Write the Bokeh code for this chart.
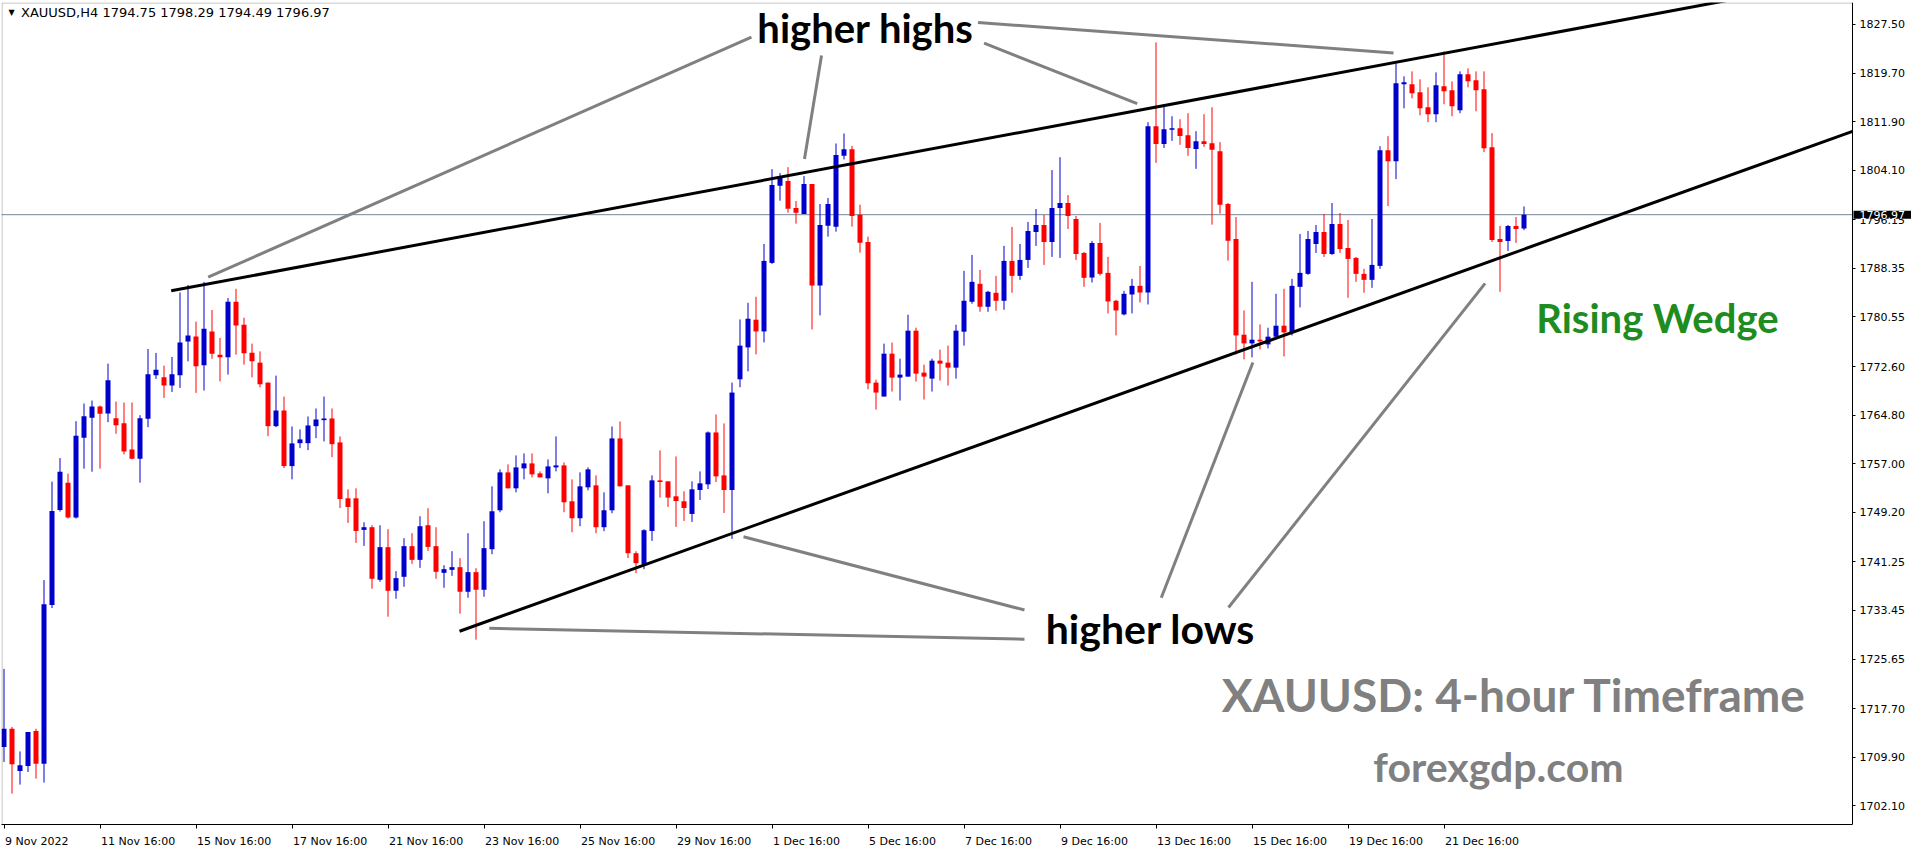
from bokeh.plotting import figure
from bokeh.models import (Range1d, FixedTicker, Label, NumeralTickFormatter,
                          ColumnDataSource, BoxAnnotation)
from bokeh.embed import file_html
from bokeh.resources import INLINE

# ---------------- data (XAUUSD H4, bar 0 = 9 Nov 2022 16:00) ----------------
open_ = [1711.54, 1714.47, 1707.69, 1708.50, 1714.10, 1708.86, 1734.32, 1749.58, 1753.96, 1748.36,
         1761.17, 1764.37, 1766.18, 1765.06, 1764.31, 1763.51, 1759.29, 1757.81, 1764.21, 1771.19,
         1770.87, 1769.54, 1771.19, 1776.63, 1777.43, 1772.79, 1778.23, 1774.50, 1774.07, 1782.99,
         1779.31, 1774.82, 1773.22, 1770.02, 1763.03, 1765.54, 1756.62, 1760.30, 1760.30, 1763.03,
         1763.99, 1764.26, 1760.42, 1751.45, 1751.45, 1746.38, 1746.81, 1738.37, 1743.61, 1736.61,
         1738.85, 1743.77, 1741.57, 1747.13, 1743.77, 1739.49, 1739.97, 1740.40, 1736.45, 1739.60,
         1736.77, 1743.28, 1749.53, 1755.61, 1753.05, 1756.25, 1757.05, 1755.45, 1754.65, 1756.41,
         1756.73, 1750.97, 1748.25, 1753.21, 1753.53, 1746.81, 1749.53, 1761.06, 1753.53, 1742.64,
         1740.88, 1746.21, 1754.33, 1754.17, 1751.77, 1750.97, 1748.94, 1752.78, 1753.69, 1762.02,
         1755.13, 1752.78, 1770.55, 1775.67, 1780.11, 1778.23, 1789.23, 1801.61, 1802.36, 1798.04,
         1797.08, 1801.88, 1785.60, 1795.21, 1795.05, 1806.41, 1807.49, 1796.97, 1792.60, 1770.02,
         1767.78, 1774.66, 1770.82, 1770.98, 1778.35, 1771.62, 1770.66, 1773.54, 1773.22, 1772.42,
         1778.19, 1782.99, 1785.87, 1782.19, 1784.43, 1783.15, 1789.55, 1787.15, 1789.71, 1794.20,
         1795.32, 1792.60, 1798.04, 1798.84, 1796.28, 1790.83, 1786.88, 1792.44, 1787.63, 1783.15,
         1780.96, 1784.16, 1785.55, 1784.48, 1811.17, 1808.33, 1810.58, 1810.85, 1809.73, 1807.53,
         1808.77, 1808.45, 1807.16, 1798.68, 1793.08, 1777.71, 1776.31, 1776.91, 1776.15, 1777.39,
         1779.15, 1778.07, 1785.39, 1787.47, 1792.28, 1794.20, 1790.67, 1795.48, 1791.64, 1790.03,
         1787.47, 1786.51, 1788.75, 1807.32, 1805.56, 1817.89, 1817.89, 1816.61, 1814.21, 1813.09,
         1817.57, 1816.93, 1813.73, 1819.49, 1818.53, 1817.09, 1807.81, 1793.08, 1792.76, 1795.16,
         1794.75]
high = [1724.07, 1714.74, 1710.83, 1713.94, 1714.47, 1738.32, 1754.12, 1757.90, 1755.40, 1763.83,
        1766.66, 1767.14, 1766.34, 1773.06, 1766.98, 1766.82, 1766.82, 1764.79, 1775.42, 1774.78,
        1772.74, 1774.14, 1784.48, 1785.70, 1779.79, 1786.19, 1781.66, 1777.18, 1783.58, 1785.07,
        1780.43, 1776.27, 1775.03, 1770.02, 1771.14, 1767.78, 1762.98, 1762.50, 1764.58, 1765.86,
        1767.78, 1765.86, 1761.38, 1752.89, 1753.05, 1747.61, 1747.13, 1747.13, 1746.49, 1739.76,
        1745.05, 1745.85, 1748.57, 1749.85, 1746.81, 1740.72, 1742.96, 1741.84, 1745.85, 1740.24,
        1747.77, 1753.37, 1756.09, 1756.89, 1758.33, 1758.65, 1758.65, 1755.77, 1757.69, 1761.38,
        1757.21, 1754.49, 1755.61, 1756.41, 1755.13, 1752.41, 1762.98, 1763.78, 1753.53, 1742.96,
        1746.49, 1755.13, 1759.13, 1754.17, 1758.17, 1752.57, 1754.17, 1755.77, 1762.18, 1764.90,
        1763.46, 1770.02, 1780.16, 1782.83, 1783.79, 1792.28, 1804.28, 1803.64, 1804.60, 1799.16,
        1803.16, 1801.88, 1798.68, 1799.64, 1808.40, 1810.00, 1808.01, 1798.57, 1793.44, 1770.50,
        1776.27, 1776.43, 1773.86, 1780.91, 1778.83, 1772.90, 1773.86, 1775.30, 1775.95, 1779.31,
        1787.95, 1790.51, 1788.11, 1784.75, 1787.15, 1791.96, 1795.00, 1792.28, 1795.80, 1797.88,
        1796.92, 1804.12, 1806.20, 1800.12, 1796.76, 1790.99, 1792.76, 1795.64, 1790.19, 1783.31,
        1784.75, 1786.67, 1788.75, 1811.81, 1824.62, 1814.37, 1812.77, 1812.29, 1813.25, 1810.37,
        1813.09, 1814.21, 1808.61, 1798.84, 1796.60, 1781.60, 1786.19, 1779.36, 1778.83, 1784.27,
        1785.07, 1786.67, 1793.88, 1794.36, 1795.32, 1797.08, 1798.84, 1797.24, 1796.12, 1790.19,
        1788.27, 1796.28, 1807.97, 1809.57, 1821.25, 1819.17, 1819.97, 1818.69, 1817.41, 1819.81,
        1823.17, 1818.37, 1819.97, 1820.45, 1819.97, 1819.97, 1810.05, 1795.16, 1795.32, 1796.60,
        1798.29]
low = [1709.14, 1704.06, 1705.50, 1707.53, 1706.46, 1705.82, 1733.84, 1749.32, 1748.20, 1748.20,
       1756.21, 1755.72, 1756.21, 1763.67, 1761.81, 1758.49, 1757.70, 1753.96, 1762.87, 1770.61,
       1767.57, 1768.53, 1769.17, 1773.43, 1768.37, 1768.74, 1773.86, 1770.23, 1771.30, 1774.50,
       1772.90, 1770.87, 1769.27, 1761.42, 1762.87, 1756.30, 1754.49, 1759.50, 1759.18, 1761.10,
       1760.58, 1758.06, 1749.90, 1747.50, 1744.29, 1743.81, 1736.93, 1738.05, 1732.45, 1735.33,
       1737.25, 1740.93, 1740.29, 1743.01, 1738.53, 1737.09, 1739.01, 1732.93, 1735.49, 1728.76,
       1735.65, 1742.48, 1749.21, 1753.05, 1752.41, 1754.49, 1754.81, 1754.81, 1752.25, 1755.77,
       1749.21, 1746.01, 1746.97, 1752.73, 1745.85, 1746.17, 1749.05, 1753.37, 1741.84, 1739.44,
       1740.08, 1744.61, 1751.56, 1750.06, 1746.86, 1747.82, 1747.66, 1751.18, 1752.94, 1754.06,
       1749.10, 1744.93, 1769.27, 1771.83, 1774.55, 1776.47, 1789.07, 1799.21, 1797.29, 1795.53,
       1797.08, 1778.56, 1780.80, 1793.44, 1794.24, 1805.84, 1795.05, 1790.88, 1768.95, 1765.70,
       1767.78, 1768.58, 1767.14, 1770.98, 1770.18, 1767.30, 1768.58, 1770.34, 1769.54, 1770.66,
       1775.95, 1782.67, 1781.39, 1781.39, 1781.55, 1781.71, 1784.43, 1786.51, 1788.43, 1791.96,
       1788.91, 1790.19, 1790.03, 1794.68, 1789.71, 1785.39, 1786.08, 1787.20, 1781.12, 1777.59,
       1780.80, 1781.12, 1782.88, 1782.56, 1805.29, 1807.69, 1808.81, 1808.17, 1806.41, 1804.33,
       1807.85, 1795.37, 1797.13, 1789.60, 1774.55, 1773.75, 1774.07, 1775.35, 1775.51, 1777.27,
       1774.23, 1777.59, 1782.08, 1787.31, 1790.83, 1790.19, 1790.51, 1790.83, 1783.63, 1786.19,
       1784.43, 1785.23, 1788.27, 1798.36, 1802.68, 1814.05, 1815.65, 1812.93, 1811.81, 1811.81,
       1814.69, 1812.77, 1813.25, 1817.41, 1813.57, 1807.00, 1792.60, 1784.59, 1791.15, 1792.44,
       1794.49]
close = [1714.47, 1708.75, 1708.59, 1713.94, 1708.86, 1734.43, 1749.42, 1755.72, 1748.36, 1761.49,
         1764.63, 1766.18, 1765.01, 1770.39, 1763.19, 1758.97, 1757.81, 1764.31, 1771.35, 1772.10,
         1769.54, 1771.35, 1776.47, 1777.59, 1772.63, 1778.67, 1774.66, 1774.07, 1782.99, 1779.20,
         1774.71, 1773.43, 1769.75, 1763.03, 1765.54, 1756.62, 1760.26, 1760.90, 1763.14, 1764.10,
         1764.26, 1760.14, 1751.34, 1750.06, 1746.21, 1746.81, 1738.53, 1743.61, 1736.61, 1738.64,
         1743.77, 1741.57, 1746.97, 1743.65, 1739.65, 1740.08, 1740.40, 1736.45, 1739.60, 1736.77,
         1743.45, 1749.37, 1755.61, 1753.05, 1756.41, 1757.05, 1755.29, 1754.81, 1756.57, 1756.73,
         1750.81, 1748.25, 1753.37, 1756.09, 1746.81, 1749.53, 1761.06, 1753.37, 1742.64, 1741.04,
         1746.33, 1754.33, 1754.06, 1751.56, 1751.02, 1749.90, 1752.89, 1753.85, 1762.02, 1754.97,
         1752.78, 1768.42, 1775.95, 1780.27, 1778.23, 1789.55, 1801.72, 1803.16, 1797.93, 1797.29,
         1801.88, 1785.60, 1795.32, 1798.68, 1806.53, 1807.49, 1796.76, 1792.48, 1769.91, 1768.42,
         1774.66, 1770.82, 1771.30, 1778.35, 1771.46, 1770.98, 1773.54, 1773.06, 1772.42, 1778.35,
         1783.15, 1786.19, 1782.19, 1784.59, 1783.15, 1789.55, 1787.15, 1789.71, 1794.36, 1795.32,
         1792.60, 1798.04, 1798.84, 1796.76, 1790.67, 1786.83, 1792.44, 1787.47, 1783.04, 1781.60,
         1784.27, 1785.55, 1784.48, 1811.17, 1808.33, 1810.69, 1810.85, 1809.61, 1807.69, 1808.77,
         1808.33, 1807.37, 1798.57, 1792.80, 1777.59, 1776.31, 1776.91, 1776.63, 1777.39, 1779.15,
         1778.07, 1785.55, 1787.63, 1793.08, 1794.20, 1790.67, 1795.48, 1791.48, 1789.87, 1787.47,
         1786.51, 1788.91, 1807.32, 1805.56, 1818.05, 1818.21, 1816.45, 1814.05, 1813.09, 1817.73,
         1816.77, 1814.37, 1819.49, 1818.37, 1816.93, 1807.65, 1792.92, 1792.60, 1795.16, 1794.68,
         1796.97]

date_tick_bars = [0, 12, 24, 36, 48, 60, 72, 84, 96, 108, 120, 132, 144, 156, 168, 180]
date_tick_labels = ["9 Nov 2022", "11 Nov 16:00", "15 Nov 16:00", "17 Nov 16:00", "21 Nov 16:00",
                    "23 Nov 16:00", "25 Nov 16:00", "29 Nov 16:00", "1 Dec 16:00", "5 Dec 16:00",
                    "7 Dec 16:00", "9 Dec 16:00", "13 Dec 16:00", "15 Dec 16:00", "19 Dec 16:00",
                    "21 Dec 16:00"]
price_ticks = [1827.50, 1819.70, 1811.90, 1804.10, 1796.15, 1788.35, 1780.55, 1772.60, 1764.80,
               1757.00, 1749.20, 1741.25, 1733.45, 1725.65, 1717.70, 1709.90, 1702.10]
last_price = 1796.97
header_text = "XAUUSD,H4  1794.75 1798.29 1794.49 1796.97"

# annotation anchors: (bar index, price)
upper_wedge_x = [20.9, 231.0]
upper_wedge_y = [1784.75, 1835.09]
lower_wedge_x = [56.94, 231.06]
lower_wedge_y = [1730.11, 1810.35]
pointer_xs = [[93.43, 25.52], [102.19, 100.06], [122.51, 141.65], [121.75, 173.69],
              [60.66, 127.56], [92.44, 127.56], [144.66, 156.11], [153.06, 185.14]]
pointer_ys = [[1825.46, 1786.93], [1822.53, 1805.92], [1824.49, 1814.80], [1827.82, 1822.93],
              [1730.59, 1728.83], [1745.27, 1733.52], [1735.49, 1773.24], [1733.92, 1785.95]]
notes = [("higher highs", 107.69, 1826.86, "black", "40px"),
         ("higher lows", 143.31, 1730.48, "black", "41px"),
         ("Rising Wedge", 206.69, 1780.43, "#1e8c1e", "40px"),
         ("XAUUSD: 4-hour Timeframe", 188.81, 1719.91, "#808080", "46px"),
         ("forexgdp.com", 186.81, 1708.38, "#808080", "41px")]

# ---------------- layout (page pixels) ----------------
W, H = 1916, 850
px_per_bar = 8.0
frame_l, frame_t, frame_b = 1, 2, 826
scale_x = 1852                      # chart border / price scale line
bar0_px = 3.5                       # page x of bar 0 centre
ref_px, ref_price, px_per_usd = 24.0, 1827.50, 6.246

def bar_at(px):
    return (px - bar0_px) / px_per_bar

def price_at(py):
    return ref_price - (py - ref_px) / px_per_usd

p = figure(width=W, height=H, output_backend="svg", toolbar_location=None,
           x_range=Range1d(bar_at(frame_l), bar_at(W)),
           y_range=Range1d(price_at(frame_b), price_at(frame_t)),
           y_axis_location="right",
           min_border_left=frame_l, min_border_top=frame_t,
           min_border_right=0, min_border_bottom=H - frame_b,
           background_fill_color="white", border_fill_color="white",
           outline_line_color=None)
p.grid.visible = False

# chart border (left/top/bottom; right edge is the price scale line)
p.add_layout(BoxAnnotation(left=bar_at(frame_l + 0.5), right=bar_at(scale_x),
                           top=price_at(frame_t + 0.5), bottom=price_at(frame_b),
                           fill_alpha=0, line_color="black", line_width=1))

# y axis (price scale at the chart's right border)
ya = p.yaxis[0]
ya.fixed_location = bar_at(scale_x)
ya.ticker = FixedTicker(ticks=price_ticks)
ya.formatter = NumeralTickFormatter(format="0.00")
ya.major_tick_out = 3
ya.major_tick_in = 0
ya.minor_tick_line_color = None
ya.major_label_standoff = 4
ya.major_label_text_font = "DejaVu Sans"
ya.major_label_text_font_size = "11px"
ya.major_label_text_color = "black"
ya.axis_line_color = "black"

# x axis (below): labels left-aligned to tick like MT4
def text_w(s, size=11.0):
    tab = {" ": 0.318, ":": 0.337, "N": 0.748, "o": 0.612, "v": 0.592, "D": 0.770, "e": 0.615, "c": 0.550}
    return sum(tab.get(ch, 0.636) for ch in s) * size

centers = [round((b + (1 + text_w(s) / 2) / px_per_bar) * 64) / 64
           for b, s in zip(date_tick_bars, date_tick_labels)]
xa = p.xaxis[0]
xa.bounds = (bar_at(frame_l), bar_at(scale_x))
xa.ticker = FixedTicker(ticks=centers, minor_ticks=date_tick_bars)
xa.major_label_overrides = {c: s for c, s in zip(centers, date_tick_labels)}
xa.major_tick_line_color = None
xa.major_tick_out = 0
xa.major_tick_in = 0
xa.minor_tick_out = 4
xa.minor_tick_in = 0
xa.minor_tick_line_color = "black"
xa.major_label_standoff = 6
xa.major_label_text_font = "DejaVu Sans"
xa.major_label_text_font_size = "11px"
xa.major_label_text_color = "black"
xa.axis_line_color = "black"

# current price line (up to the price scale)
p.line([bar_at(frame_l), bar_at(scale_x)], [last_price, last_price], line_color="#778899", line_width=1)

# candles
min_body = 1.0 / px_per_usd
def candle_source(bull):
    xs, hi, lo, top, bot = [], [], [], [], []
    for i, (o, h, l, c) in enumerate(zip(open_, high, low, close)):
        if (c > o) != bull:
            continue
        t, b = max(o, c), min(o, c)
        if t - b < min_body:
            m = (t + b) / 2
            t, b = m + min_body / 2, m - min_body / 2
        xs.append(i); hi.append(h); lo.append(l); top.append(t); bot.append(b)
    return ColumnDataSource(dict(x=xs, high=hi, low=lo, top=top, bottom=bot))

for bull, col in ((True, "#0000CD"), (False, "#FF0000")):
    src = candle_source(bull)
    p.segment(x0="x", y0="low", x1="x", y1="high", source=src, line_color=col, line_width=1)
    p.vbar(x="x", width=5 / px_per_bar, top="top", bottom="bottom", source=src,
           fill_color=col, line_color=None)

# wedge lines and pointers
p.line(upper_wedge_x, upper_wedge_y, line_color="black", line_width=3)
p.line(lower_wedge_x, lower_wedge_y, line_color="black", line_width=3)
p.multi_line(pointer_xs, pointer_ys, line_color="#808080", line_width=3)

for txt, x, y, col, size in notes:
    p.add_layout(Label(x=x, y=y, text=txt, text_align="center", text_baseline="middle",
                       text_font="Lato", text_font_style="bold", text_font_size=size,
                       text_color=col))

# header (inside chart, top-left)
p.add_layout(Label(x=bar_at(11), y=price_at(12), text="\u25BC", text_align="center",
                   text_baseline="middle", text_font="DejaVu Sans", text_font_size="8px",
                   text_color="black"))
p.add_layout(Label(x=bar_at(20.5), y=price_at(5), text=header_text, text_align="left",
                   text_baseline="top", text_font="DejaVu Sans", text_font_size="13px",
                   text_color="black"))

# last price box on the price scale
p.add_layout(Label(x=bar_at(scale_x + 1), y=last_price, text=f"{last_price:.2f}",
                   text_align="left", text_baseline="middle", text_font="DejaVu Sans",
                   text_font_size="11px", text_color="white", background_fill_color="black",
                   padding=(6, 0)))

open("out.html", "w").write(file_html(p, INLINE))
